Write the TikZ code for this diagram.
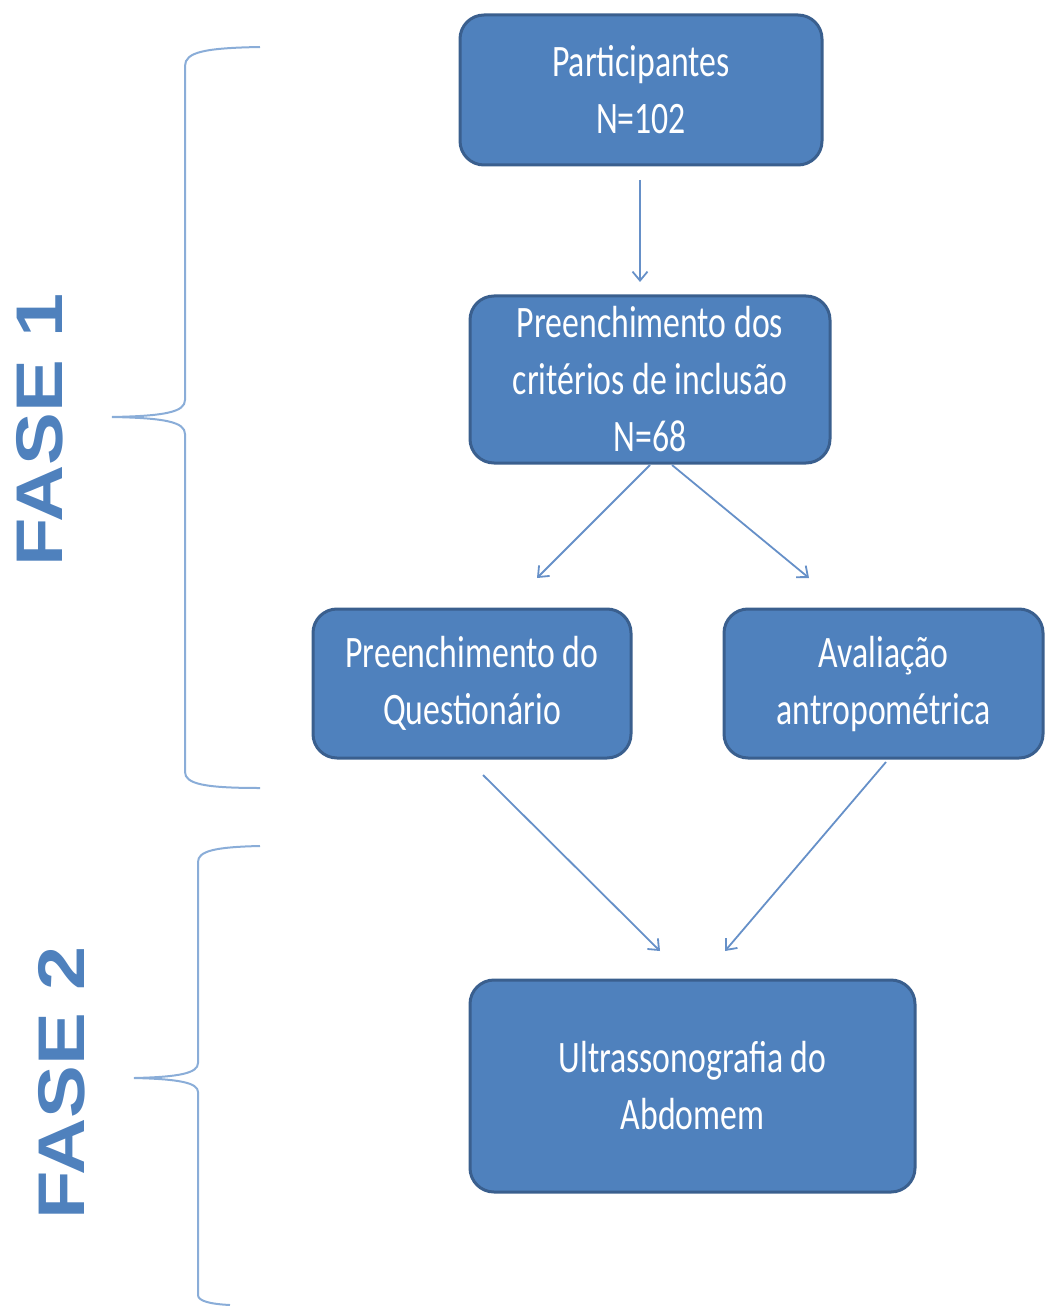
\documentclass[tikz,border=0pt]{standalone}
\usepackage{fontspec}
\usetikzlibrary{arrows.meta}
\newfontfamily\boxfont[FakeStretch=0.75]{Carlito}
\newfontfamily\fasefont[FakeStretch=1.2]{Liberation Sans Bold}
\definecolor{boxfill}{HTML}{4F81BD}
\definecolor{boxline}{HTML}{3A5F8E}
\definecolor{arrcol}{HTML}{6690C8}
\definecolor{bracecol}{HTML}{8AADD8}
\begin{document}
\begin{tikzpicture}[x=1bp,y=-1bp,
  flowbox/.style={draw=boxline, line width=3bp, fill=boxfill, rounded corners=24bp,
    text=white, align=center, inner sep=0pt,
    font=\boxfont\fontsize{45bp}{57bp}\selectfont},
  arr/.style={draw=arrcol, line width=1.8bp, -{Straight Barb[length=9bp,width=15bp]}},
  bracepath/.style={draw=bracecol, line width=2bp},
  faselabel/.style={rotate=90, text=boxfill, inner sep=0pt,
    font=\fasefont\fontsize{66bp}{66bp}\selectfont}]
\useasboundingbox (0,0) rectangle (1045,1306);
% boxes
\node[flowbox, minimum width=362bp, minimum height=150bp] (b1) at (641,90) {Participantes\\N=102};
\node[flowbox, minimum width=360bp, minimum height=167bp] (b2) at (650,379.5) {Preenchimento dos\\crit\'erios de inclus\~ao\\N=68};
\node[flowbox, minimum width=318bp, minimum height=149bp] (b3) at (472,683.5) {Preenchimento do\\Question\'ario};
\node[flowbox, minimum width=319bp, minimum height=149bp] (b4) at (883.5,683.5) {Avalia\c{c}\~ao\\antropom\'etrica};
\node[flowbox, minimum width=445bp, minimum height=212bp] (b5) at (692.5,1086) {Ultrassonografia do\\Abdomem};
% arrow end points
\coordinate (a1s) at (640,180);
\coordinate (a1e) at (640,282);
\coordinate (a2s) at (650,465);
\coordinate (a2e) at (537,578);
\coordinate (a3s) at (672,465);
\coordinate (a3e) at (809,578);
\coordinate (a4s) at (483,775);
\coordinate (a4e) at (660,951);
\coordinate (a5s) at (886,762);
\coordinate (a5e) at (725,951);
\draw[arr] (a1s) -- (a1e);
\draw[arr] (a2s) -- (a2e);
\draw[arr] (a3s) -- (a3e);
\draw[arr] (a4s) -- (a4e);
\draw[arr] (a5s) -- (a5e);
% braces
\draw[bracepath] (260,47) .. controls (205,48) and (185,52) .. (185,66) -- (185,400)
  .. controls (185,412) and (165,416) .. (112,417)
  .. controls (165,418) and (185,422) .. (185,434) -- (185,772)
  .. controls (185,784) and (205,788) .. (260,788);
\draw[bracepath] (260,846) .. controls (215,847) and (198,851) .. (198,862) -- (198,1063)
  .. controls (198,1073) and (180,1077) .. (134,1078)
  .. controls (180,1079) and (198,1083) .. (198,1092) -- (198,1295)
  .. controls (198,1301) and (210,1304) .. (230,1305);
% labels
\node[faselabel] (f1) at (40,430) {FASE 1};
\node[faselabel] (f2) at (62,1083) {FASE 2};
\end{tikzpicture}
\end{document}
